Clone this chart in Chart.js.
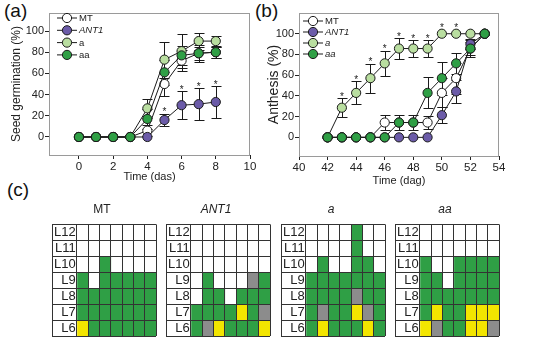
<!DOCTYPE html>
<html>
<head>
<meta charset="utf-8">
<script src="https://cdn.jsdelivr.net/npm/chart.js@4.4.0/dist/chart.umd.min.js"></script>
<style>
  html, body { margin: 0; padding: 0; background: #fff; overflow: hidden; }
  body { width: 544px; height: 342px; position: relative; font-family: "Liberation Sans", Arial, sans-serif; }
  canvas { position: absolute; }
  .tag { position: absolute; font-size: 19px; line-height: 19px; color: #111; }
</style>
</head>
<body>
<div class="tag" style="left:4px;top:1px">(a)</div>
<div class="tag" style="left:255px;top:1px">(b)</div>
<div class="tag" style="left:7px;top:180px">(c)</div>
<canvas id="germ" width="262" height="184" style="left:0;top:0"></canvas>
<canvas id="anth" width="282" height="188" style="left:262px;top:0"></canvas>
<canvas id="gridMT" width="112" height="150" style="left:46px;top:198px"></canvas>
<canvas id="gridANT1" width="112" height="150" style="left:160px;top:198px"></canvas>
<canvas id="gridA" width="112" height="150" style="left:275px;top:198px"></canvas>
<canvas id="gridAA" width="112" height="150" style="left:389px;top:198px"></canvas>
<script>
// ---- (a) seed germination ----
const germDays = [0, 1, 2, 3, 4, 5, 6, 7, 8];
const germMT   = [0, 0, 0, 0, 6, 50, 72, 79, 80];
const germANT1 = [0, 0, 0, 0, 0, 16, 30, 31, 33];
const germA    = [0, 0, 0, 0, 27, 73, 81, 90.5, 90.5];
const germAA   = [0, 0, 0, 0, 17, 61, 77, 79, 80];
const germErrMT   = [0, 0, 0, 0, 5, 11, 10, 6, 5];
const germErrANT1 = [0, 0, 0, 0, 0, 6, 13, 15, 15];
const germErrA    = [0, 0, 0, 0, 9, 17, 16, 8, 5];
const germErrAA   = [0, 0, 0, 0, 9, 12, 9, 8, 5];
const germStarsANT1 = [5, 6, 7, 8];
const germTicks = [0, 2, 4, 6, 8, 10];

// ---- (b) anthesis ----
const anthDays = [42, 43, 44, 45, 46, 47, 48, 49, 50, 51, 52, 53];
const anthMT   = [0, 0, 0, 0, 14.3, 14.3, 14.3, 14.3, 42.9, 57.1, 85.7, 100];
const anthANT1 = [0, 0, 0, 0, 0, 0, 0, 0, 21.4, 44.3, 90, 100];
const anthA    = [0, 28.6, 42.9, 57.1, 71.4, 85.7, 85.7, 85.7, 100, 100, 100, 100];
const anthAA   = [0, 0, 0, 0, 0, 14.3, 14.3, 42.9, 57.1, 71.4, 85.7, 100];
const anthErrMT   = [0, 0, 0, 0, 7, 0, 0, 6, 14, 15, 6, 0];
const anthErrANT1 = [0, 0, 0, 0, 0, 0, 0, 0, 8, 11, 5, 0];
const anthErrA    = [0, 9, 11, 14, 12, 10, 8, 8, 0, 0, 0, 0];
const anthErrAA   = [0, 0, 0, 0, 0, 7, 7, 15, 16, 10, 8, 0];
const anthStarsA = [43, 44, 45, 46, 47, 48, 49, 50, 51];
const anthTicks = [40, 42, 44, 46, 48, 50, 52, 54];

const pctTicks = [0, 20, 40, 60, 80, 100];
const seriesNames = ['MT', 'ANT1', 'a', 'aa'];
const seriesFills = ['#ffffff', '#6b5ba8', '#b9dea0', '#2f9f45'];

// ---- (c) leaf position of the first inflorescence, 7 plants per line ----
// G = inflorescence, Y = yellow, S = grey, . = empty
const leafRows = ['L12', 'L11', 'L10', 'L9', 'L8', 'L7', 'L6'];
const cellsMT   = ['.......', '.......', '..G....', 'G.GGGGG', 'GGGGGGG', 'GGGGGGG', 'YGGGGGG'];
const cellsANT1 = ['.......', '.......', '.......', '.G...SG', '.GG.GGG', 'GGGGYGS', 'GSYGGGY'];
const cellsA    = ['....G..', '....G..', '.G..GG.', 'GGGGGGG', 'GGGGSGG', 'GSGGYSG', 'GYGGGYG'];
const cellsAA   = ['.......', '.......', 'G..GGGG', 'GG.GGGG', 'GGGGGGG', 'GYGGYYY', 'YSGGYYS'];
const cellColors = { G: '#2f9f45', Y: '#f3e500', S: '#8c8c8c', '.': '#ffffff' };

const FONT = '"Liberation Sans", Arial, sans-serif';
Chart.defaults.font.family = FONT;
Chart.defaults.color = '#222';
Chart.defaults.animation = false;
Chart.defaults.responsive = false;
Chart.defaults.plugins.legend.display = false;
Chart.defaults.plugins.tooltip.enabled = false;

function lineSet(i, days, values, errors, italic, stars) {
  return {
    label: seriesNames[i],
    data: days.map((d, k) => ({ x: d, y: values[k] })),
    errors: errors,
    stars: stars || [],
    italic: italic,
    order: 4 - i,
    borderColor: '#1a1a1a',
    borderWidth: 1,
    pointRadius: 4.6,
    pointBorderWidth: 1,
    pointBorderColor: '#1a1a1a',
    pointBackgroundColor: seriesFills[i],
    backgroundColor: seriesFills[i],
    tension: 0,
    fill: false
  };
}

// frame + error bars under the lines, asterisks and inside legend on top
const decor = {
  id: 'decor',
  beforeDatasetsDraw(chart) {
    const { ctx, chartArea: a, scales: { x, y } } = chart;
    ctx.save();
    ctx.strokeStyle = '#9a9a9a';
    ctx.lineWidth = 1;
    ctx.strokeRect(Math.round(a.left) + 0.5, Math.round(a.top) + 0.5,
      Math.round(a.right - a.left) - 1, Math.round(a.bottom - a.top));
    ctx.strokeStyle = '#1a1a1a';
    chart.data.datasets.forEach(ds => {
      ds.errors.forEach((e, k) => {
        if (!e) return;
        const p = ds.data[k];
        const px = Math.round(x.getPixelForValue(p.x)) + 0.5;
        const t = Math.round(y.getPixelForValue(p.y + e)) + 0.5;
        const b = Math.round(y.getPixelForValue(p.y - e)) + 0.5;
        ctx.beginPath();
        ctx.moveTo(px, t); ctx.lineTo(px, b);
        ctx.moveTo(px - 5, t); ctx.lineTo(px + 5, t);
        ctx.moveTo(px - 5, b); ctx.lineTo(px + 5, b);
        ctx.stroke();
      });
    });
    ctx.restore();
  },
  afterDatasetsDraw(chart, args, opts) {
    const { ctx, chartArea: a, scales: { x, y } } = chart;
    ctx.save();
    ctx.fillStyle = '#1a1a1a';
    ctx.font = '10px ' + FONT;
    ctx.textAlign = 'center';
    ctx.textBaseline = 'alphabetic';
    chart.data.datasets.forEach(ds => {
      ds.stars.forEach(d => {
        const k = ds.data.findIndex(p => p.x === d);
        const p = ds.data[k];
        const top = Math.min(y.getPixelForValue(p.y + ds.errors[k]) - 4, y.getPixelForValue(p.y) - 8);
        ctx.fillText('*', x.getPixelForValue(p.x), top + 5.5);
      });
    });
    // legend: line through marker, then name
    ctx.textAlign = 'left';
    ctx.textBaseline = 'middle';
    chart.data.datasets.forEach((ds, i) => {
      const ly = a.top + opts.top + i * opts.gap;
      const lx = a.left + opts.left;
      ctx.strokeStyle = '#1a1a1a';
      ctx.lineWidth = 1;
      ctx.beginPath();
      ctx.moveTo(lx, ly); ctx.lineTo(lx + 20, ly);
      ctx.stroke();
      ctx.beginPath();
      ctx.arc(lx + 10, ly, 4.6, 0, Math.PI * 2);
      ctx.fillStyle = ds.pointBackgroundColor;
      ctx.fill();
      ctx.stroke();
      ctx.fillStyle = '#222';
      ctx.font = (ds.italic ? 'italic ' : '') + opts.size + 'px ' + FONT;
      ctx.fillText(ds.label, lx + 22, ly + 0.5);
    });
    ctx.restore();
  }
};

function lineScales(xMin, xMax, xTicks, xTitle, yMin, yMax, yTitle, yTitleSize, yWidth, xHeight) {
  return {
    x: {
      type: 'linear', min: xMin, max: xMax,
      afterBuildTicks: s => { s.ticks = xTicks.map(v => ({ value: v })); },
      grid: { drawOnChartArea: false, tickLength: 4, color: '#222' },
      border: { display: false },
      ticks: { font: { size: 11.5 }, padding: 1, maxRotation: 0, autoSkip: false },
      title: { display: true, text: xTitle, font: { size: 11 }, padding: 0 },
      afterFit: s => { s.height = xHeight; }
    },
    y: {
      type: 'linear', min: yMin, max: yMax,
      afterBuildTicks: s => { s.ticks = pctTicks.map(v => ({ value: v })); },
      grid: { drawOnChartArea: false, tickLength: 4, color: '#222' },
      border: { display: false },
      ticks: { font: { size: 11 }, padding: 1 },
      title: { display: true, text: yTitle, font: { size: yTitleSize }, padding: 0 },
      afterFit: s => { s.width = yWidth; }
    }
  };
}

new Chart(document.getElementById('germ'), {
  type: 'line',
  data: {
    datasets: [
      lineSet(0, germDays, germMT, germErrMT, false),
      lineSet(1, germDays, germANT1, germErrANT1, true, germStarsANT1),
      lineSet(2, germDays, germA, germErrA, false),
      lineSet(3, germDays, germAA, germErrAA, false)
    ]
  },
  options: {
    layout: { padding: { left: 9, top: 13, right: 12, bottom: 0 } },
    scales: lineScales(-1.75, 10, germTicks, 'Time (das)', -17, 117, 'Seed germination (%)', 12, 40, 29),
    plugins: { decor: { left: 8, top: 5, gap: 12.3, size: 9.5 } }
  },
  plugins: [decor]
});

new Chart(document.getElementById('anth'), {
  type: 'line',
  data: {
    datasets: [
      lineSet(0, anthDays, anthMT, anthErrMT, false),
      lineSet(1, anthDays, anthANT1, anthErrANT1, true),
      lineSet(2, anthDays, anthA, anthErrA, true, anthStarsA),
      lineSet(3, anthDays, anthAA, anthErrAA, true)
    ]
  },
  options: {
    layout: { padding: { left: 4, top: 13, right: 45, bottom: 0 } },
    scales: lineScales(40, 54, anthTicks, 'Time (dag)', -18, 120, 'Anthesis (%)', 14, 33, 32),
    plugins: { decor: { left: 4, top: 8, gap: 11, size: 9.5 } }
  },
  plugins: [decor]
});

// leaf grids: one horizontal stacked bar per leaf row, one dataset per plant column
const labelCol = 2.2;
function leafGrid(id, title, italic, cells) {
  const nCols = cells[0].length;
  const datasets = [{
    data: leafRows.map(() => labelCol),
    backgroundColor: '#ffffff'
  }];
  for (let c = 0; c < nCols; c++) {
    datasets.push({
      data: leafRows.map(() => 1),
      backgroundColor: cells.map(row => cellColors[row[c]])
    });
  }
  const edges = [0];
  for (let c = 0; c <= nCols; c++) edges.push(labelCol + c);
  new Chart(document.getElementById(id), {
    type: 'bar',
    data: { labels: leafRows, datasets: datasets },
    options: {
      indexAxis: 'y',
      layout: { padding: { left: 2, right: 2, top: 0, bottom: 11.6 } },
      datasets: { bar: { barPercentage: 1, categoryPercentage: 1, borderWidth: 0 } },
      scales: {
        x: {
          stacked: true, min: 0, max: labelCol + nCols,
          afterBuildTicks: s => { s.ticks = edges.map(v => ({ value: v })); },
          grid: { color: '#333', drawTicks: false, z: 1 },
          border: { display: false },
          ticks: { display: false }
        },
        y: {
          stacked: true,
          grid: { color: '#333', drawTicks: false, offset: true, z: 1 },
          border: { display: false },
          ticks: { mirror: true, crossAlign: 'far', padding: 2, autoSkip: false,
                   font: { size: 13 }, color: '#222', z: 2 }
        }
      },
      plugins: {
        title: {
          display: true, text: title,
          font: { size: 12, style: italic ? 'italic' : 'normal', weight: 'normal' },
          color: '#222', padding: { top: 4, bottom: 8 }
        }
      }
    }
  });
}

leafGrid('gridMT', 'MT', false, cellsMT);
leafGrid('gridANT1', 'ANT1', true, cellsANT1);
leafGrid('gridA', 'a', true, cellsA);
leafGrid('gridAA', 'aa', true, cellsAA);
</script>
</body>
</html>
